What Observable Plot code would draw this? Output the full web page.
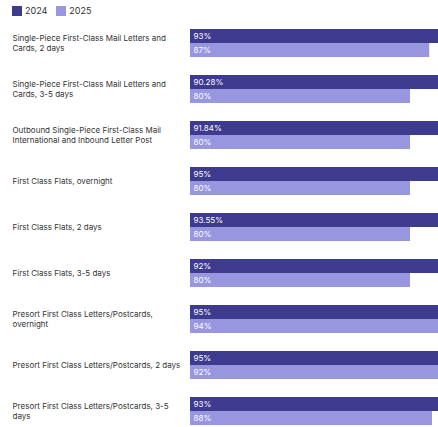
<!DOCTYPE html>
<html>
<head>
<meta charset="utf-8">
<script src="https://cdn.jsdelivr.net/npm/d3@7"></script>
<script src="https://cdn.jsdelivr.net/npm/@observablehq/plot@0.6"></script>
<style>
  html, body { margin: 0; padding: 0; overflow: hidden; background: #fff; }
  body { width: 438px; height: 427px; font-family: Inter, "Noto Sans", sans-serif; }
  #legend { height: 22px; display: flex; align-items: center; padding-left: 12px; font-size: 9px; color: #333; box-sizing: border-box; padding-bottom: 1px; }
  #legend .sw { width: 10px; height: 10px; display: inline-block; margin-right: 3px; }
  #legend .item { display: inline-flex; align-items: center; margin-right: 9px; }
  #chart { width: 465px; }
  #chart svg { max-width: none !important; display: block; }
</style>
</head>
<body>
<div id="legend"></div>
<div id="chart"></div>
<script>
const categories = [
  "Single-Piece First-Class Mail Letters and Cards, 2 days",
  "Single-Piece First-Class Mail Letters and Cards, 3-5 days",
  "Outbound Single-Piece First-Class Mail International and Inbound Letter Post",
  "First Class Flats, overnight",
  "First Class Flats, 2 days",
  "First Class Flats, 3-5 days",
  "Presort First Class Letters/Postcards, overnight",
  "Presort First Class Letters/Postcards, 2 days",
  "Presort First Class Letters/Postcards, 3-5 days"
];
// labels as wrapped in the reference
const categoryLabels = [
  "Single-Piece First-Class Mail Letters and\nCards, 2 days",
  "Single-Piece First-Class Mail Letters and\nCards, 3-5 days",
  "Outbound Single-Piece First-Class Mail\nInternational and Inbound Letter Post",
  "First Class Flats, overnight",
  "First Class Flats, 2 days",
  "First Class Flats, 3-5 days",
  "Presort First Class Letters/Postcards,\novernight",
  "Presort First Class Letters/Postcards, 2 days",
  "Presort First Class Letters/Postcards, 3-5\ndays"
];
const years = ["2024", "2025"];
const values2024 = [93, 90.28, 91.84, 95, 93.55, 92, 95, 95, 93];
const values2025 = [87, 80, 80, 80, 80, 80, 94, 92, 88];
const colors = ["#3e3a8e", "#9896de"];

const data = [];
categories.forEach((c, i) => {
  data.push({category: c, year: years[0], value: values2024[i]});
  data.push({category: c, year: years[1], value: values2025[i]});
});
const labelOf = new Map(categories.map((c, i) => [c, categoryLabels[i]]));

// legend
const legend = document.getElementById("legend");
years.forEach((y, i) => {
  const it = document.createElement("span");
  it.className = "item";
  it.innerHTML = `<span class="sw" style="background:${colors[i]}"></span>${y}`;
  legend.appendChild(it);
});

const chart = Plot.plot({
  width: 465,
  height: 406,
  marginLeft: 190,
  marginRight: 0,
  marginTop: 3,
  marginBottom: 0,
  style: {fontFamily: "Inter, 'Noto Sans', sans-serif", background: "#fff", maxWidth: "none"},
  x: {domain: [0, 100], axis: null},
  y: {domain: years, padding: 0, axis: null},
  fy: {domain: categories, paddingInner: 0.38, paddingOuter: 0, axis: null},
  color: {domain: years, range: colors},
  marks: [
    Plot.barX(data, {x: "value", y: "year", fy: "category", fill: "year"}),
    Plot.text(data, {x: 0, y: "year", fy: "category", text: d => d.value + "%", dx: 3, textAnchor: "start", fill: "white", fontSize: 8}),
    Plot.text(categories, {fy: d => d, text: d => labelOf.get(d), frameAnchor: "left", dx: -178, textAnchor: "start", lineHeight: 1.25, fontSize: 8, fill: "#333"})
  ]
});
document.getElementById("chart").appendChild(chart);
</script>
</body>
</html>
